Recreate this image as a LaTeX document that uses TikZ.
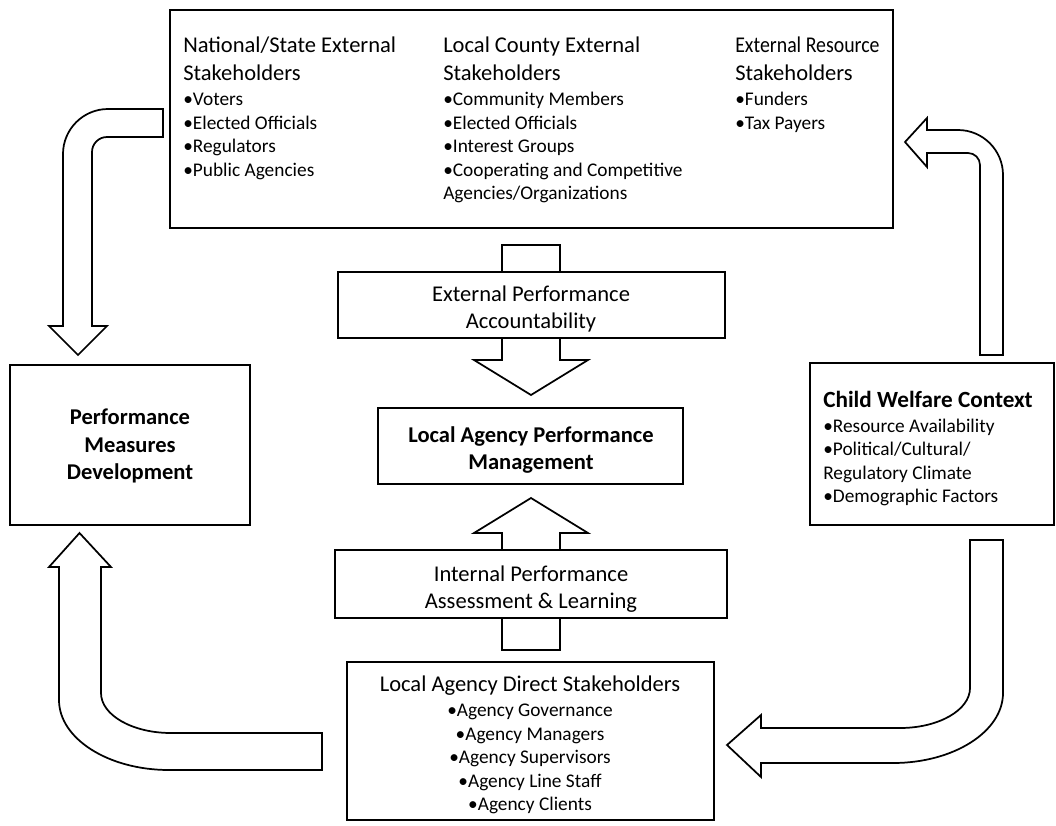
\documentclass[tikz,border=0pt]{standalone}
\usepackage{fontspec}
\usepackage{graphicx}
\setmainfont{Carlito}
\usetikzlibrary{fit}
\newcommand\hdfont{\fontsize{16.9}{20.6}\selectfont}
\newcommand\btfont{\fontsize{14.5}{17.6}\selectfont}
\begin{document}
\begin{tikzpicture}[x=0.75pt,y=-0.75pt,
  box/.style={draw=black,fill=white,line width=1.3pt,inner sep=0pt},
  barrow/.style={draw=black,fill=white,line width=1.3pt,line join=miter},
  coltext/.style={inner sep=0pt,align=left,font=\btfont},
  ctext/.style={inner sep=0pt,align=center,font=\hdfont}]
\useasboundingbox (0,0) rectangle (1056,825);
\fill[white] (0,0) rectangle (1056,825);

% central block arrows (behind boxes)
\draw[barrow] (502,245) -- (560,245) -- (560,360) -- (588,360) -- (531,395) -- (474,360) -- (502,360) -- cycle;
\draw[barrow] (502,650) -- (560,650) -- (560,533) -- (588,533) -- (531,498) -- (474,533) -- (502,533) -- cycle;

% boxes
\node[box,fit={(170,10) (893,228)}] (top) {};
\node[box,fit={(338,272) (725,338)}] (ext) {};
\node[box,fit={(378,408) (683,484)}] (lapm) {};
\node[box,fit={(335,550) (727,618)}] (int) {};
\node[box,fit={(347,662) (714,820)}] (direct) {};
\node[box,fit={(10,365) (250,525)}] (perf) {};
\node[box,fit={(810,363) (1054,525)}] (child) {};

% centred box texts
\node[ctext] (extt) at (531,309) {External Performance\\Accountability};
\node[ctext,font=\hdfont\bfseries] (lapmt) at (531,450) {Local Agency Performance\\Management};
\node[ctext] (intt) at (531,589) {Internal Performance\\Assessment \& Learning};
\node[ctext,font=\hdfont\bfseries] (perft) at (130,446) {Performance\\Measures\\Development};

% texts of the top box
\node[coltext,anchor=north west] (c1) at (183,37) {{\hdfont National/State External}\\[3pt]{\hdfont Stakeholders}\\[1.5pt]•Voters\\•Elected Officials\\•Regulators\\•Public Agencies};
\node[coltext,anchor=north west] (c2) at (443,37) {{\hdfont Local County External}\\[3pt]{\hdfont Stakeholders}\\[1.5pt]•Community Members\\•Elected Officials\\•Interest Groups\\•Cooperating and Competitive\\Agencies/Organizations};
\node[coltext,anchor=north west] (c3) at (735,37) {{\hdfont\scalebox{0.88}[1]{External Resource}}\\[3pt]{\hdfont Stakeholders}\\[1.5pt]•Funders\\•Tax Payers};

% texts of child welfare box and direct stakeholders box
\node[coltext,anchor=north west] (ctx) at (823,391) {{\fontsize{17.4}{20.6}\selectfont\bfseries Child Welfare Context}\\[1pt]•Resource Availability\\•Political/Cultural/\\Regulatory Climate\\•Demographic Factors};
\node[coltext,align=center,anchor=north] (dtx) at (530,676) {{\hdfont Local Agency Direct Stakeholders}\\[1pt]•Agency Governance\\•Agency Managers\\•Agency Supervisors\\•Agency Line Staff\\•Agency Clients};

% top-left curved arrow: top box -> performance measures
\draw[barrow] (163,109) -- (108,109) .. controls (83.2,109) and (63,129.2) .. (63,154)
  -- (63,326) -- (49,326) -- (78,355) -- (107,326) -- (92,326) -- (92,152)
  .. controls (92,143.7) and (98.7,137) .. (107,137) -- (163,137) -- cycle;

% top-right curved arrow: child welfare -> top box
\draw[barrow] (980,355) -- (1003,355) -- (1003,175) .. controls (1003,150.2) and (982.8,130) .. (958,130)
  -- (927,130) -- (927,118) -- (905,142) -- (927,167) -- (927,153) -- (968,153)
  .. controls (974.6,153) and (980,158.4) .. (980,165) -- cycle;

% bottom-left curved arrow: direct stakeholders -> performance measures
\draw[barrow] (322,733) -- (171,733) .. controls (132.4,733) and (101,715.1) .. (101,693)
  -- (101,567) -- (111,567) -- (79.5,533) -- (49,567) -- (59,567) -- (59,700)
  .. controls (59,738.6) and (108.3,770) .. (169,770) -- (322,770) -- cycle;

% bottom-right curved arrow: child welfare -> direct stakeholders
\draw[barrow] (970,540) -- (1003,540) -- (1003,693) .. controls (1003,731.6) and (953.7,763) .. (893,763)
  -- (761,763) -- (761,777) -- (727,745) -- (761,715) -- (761,728) -- (900,728)
  .. controls (938.6,728) and (970,710.1) .. (970,688) -- cycle;
\end{tikzpicture}
\end{document}
